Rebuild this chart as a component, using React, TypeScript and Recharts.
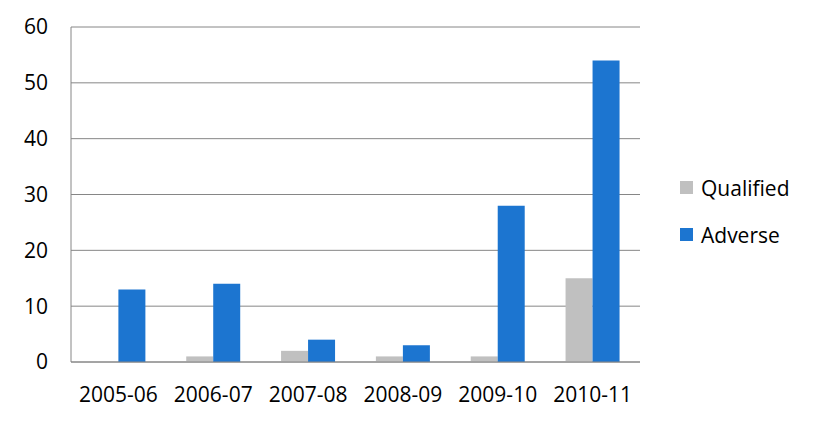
import { BarChart, Bar, XAxis, YAxis, CartesianGrid } from "recharts";

const years = ["2005-06", "2006-07", "2007-08", "2008-09", "2009-10", "2010-11"];
const qualified = [0, 1, 2, 1, 1, 15];
const adverse = [13, 14, 4, 3, 28, 54];
const yTicks = [0, 10, 20, 30, 40, 50, 60];

const series = [
  { key: "Qualified", color: "#c0c0c0" },
  { key: "Adverse", color: "#1c75d0" },
];

const data = years.map((y, i) => ({ year: y, Qualified: qualified[i], Adverse: adverse[i] }));

const font = "'Open Sans', sans-serif";

function LegendBox() {
  return (
    <div style={{ position: "absolute", left: 680, top: 164, fontFamily: font, fontSize: 21, color: "#000" }}>
      {series.map((s) => (
        <div key={s.key} style={{ display: "flex", alignItems: "center", height: 47 }}>
          <span style={{ display: "inline-block", width: 13, height: 13, background: s.color, marginRight: 8 }} />
          <span>{s.key}</span>
        </div>
      ))}
    </div>
  );
}

export default function App() {
  return (
    <div style={{ position: "absolute", left: 0, top: 0, width: 813, height: 421, background: "#fff" }}>
      <BarChart
        width={813}
        height={421}
        data={data}
        margin={{ top: 27, right: 173, bottom: 0, left: 0 }}
        barGap={0}
        barCategoryGap="21.5%"
      >
        <CartesianGrid vertical={false} stroke="#868686" />
        <XAxis
          dataKey="year"
          height={59}
          tickLine={false}
          tickSize={0}
          tickMargin={25}
          stroke="#868686"
          tick={{ fill: "#000", fontSize: 21, fontFamily: font }}
        />
        <YAxis
          width={71}
          domain={[0, 60]}
          ticks={yTicks}
          tickLine={false}
          tickSize={0}
          tickMargin={23}
          stroke="#868686"
          tick={{ fill: "#000", fontSize: 21, fontFamily: font }}
        />
        {series.map((s) => (
          <Bar key={s.key} dataKey={s.key} fill={s.color} isAnimationActive={false} />
        ))}
      </BarChart>
      <LegendBox />
    </div>
  );
}
